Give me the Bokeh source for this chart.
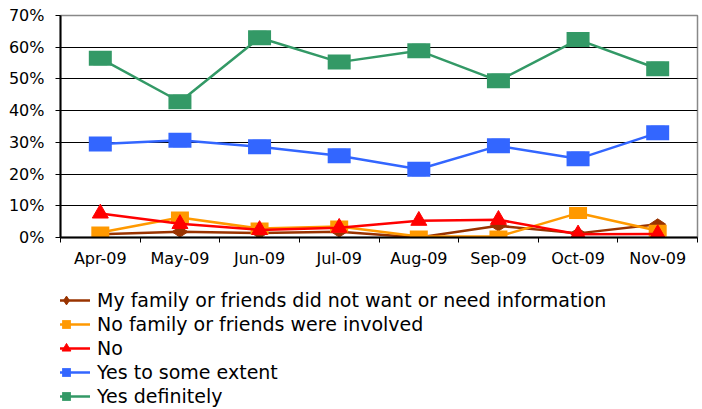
from bokeh.plotting import figure
from bokeh.models import Range1d, FixedTicker, Legend, LegendItem
from bokeh.layouts import column
from bokeh.embed import file_html
from bokeh.resources import INLINE
import math

months = ["Apr-09", "May-09", "Jun-09", "Jul-09", "Aug-09", "Sep-09", "Oct-09", "Nov-09"]
not_want = [1.0, 1.8, 1.4, 1.8, 0.0, 3.7, 1.3, 4.2]
no_family = [1.6, 6.3, 2.8, 3.5, 0.3, 0.3, 7.7, 2.1]
no = [7.6, 4.3, 2.4, 3.1, 5.3, 5.6, 1.0, 1.1]
yes_some = [29.5, 30.7, 28.6, 25.8, 21.5, 28.9, 24.8, 33.0]
yes_def = [56.5, 42.8, 63.0, 55.3, 58.9, 49.4, 62.4, 53.2]
y_ticks = [0, 10, 20, 30, 40, 50, 60, 70]

xs = [i + 0.5 for i in range(len(months))]

FONT = "DejaVu Sans"

p = figure(width=702, height=270, output_backend="svg", toolbar_location=None,
           x_range=Range1d(0, len(months)), y_range=Range1d(0, 70),
           min_border_left=60, min_border_right=5, min_border_top=15,
           min_border_bottom=32)

p.outline_line_color = "#888888"
p.outline_line_width = 1.5
p.background_fill_color = "white"
p.border_fill_color = "white"

p.xgrid.visible = False
p.ygrid.ticker = FixedTicker(ticks=y_ticks[1:-1])
p.ygrid.grid_line_color = "black"
p.ygrid.grid_line_width = 1

p.yaxis.ticker = FixedTicker(ticks=y_ticks)
p.yaxis.major_label_overrides = {t: f"{t}%" for t in y_ticks}
p.yaxis.major_tick_in = 0
p.yaxis.major_tick_out = 5
p.yaxis.minor_tick_out = 0
p.yaxis.minor_tick_in = 0
p.yaxis.major_label_standoff = 11
p.yaxis.axis_line_width = 2
p.yaxis.axis_line_color = "black"
p.yaxis.major_tick_line_color = "black"

p.xaxis.ticker = FixedTicker(ticks=xs, minor_ticks=list(range(len(months) + 1)))
p.xaxis.major_label_overrides = {x: m for x, m in zip(xs, months)}
p.xaxis.major_tick_in = 0
p.xaxis.major_tick_out = 0
p.xaxis.minor_tick_in = 0
p.xaxis.minor_tick_out = 5
p.xaxis.minor_tick_line_color = "black"
p.xaxis.major_label_standoff = 6
p.xaxis.axis_line_width = 2
p.xaxis.axis_line_color = "black"

for ax in (p.xaxis, p.yaxis):
    ax.major_label_text_font = FONT
    ax.major_label_text_font_size = "16px"
    ax.major_label_text_color = "black"

series = [
    ("My family or friends did not want or need information", not_want, "#993300", "diamond"),
    ("No family or friends were involved", no_family, "#FF9900", "square"),
    ("No", no, "#FF0000", "triangle"),
    ("Yes to some extent", yes_some, "#3366FF", "bigsquare"),
    ("Yes definitely", yes_def, "#339966", "bigsquare"),
]

# legend-only figure below the chart
lg = figure(width=702, height=139, output_backend="svg", toolbar_location=None,
            x_range=Range1d(100, 101), y_range=Range1d(100, 101),
            x_axis_location=None, y_axis_location=None,
            min_border_left=0, min_border_right=0, min_border_top=0,
            min_border_bottom=0)
lg.grid.visible = False
lg.outline_line_color = None


def draw(fig, vals, color, mk, with_rect):
    ln = fig.line(xs, vals, line_color=color, line_width=2.5)
    if mk == "diamond":
        sc = fig.scatter(xs, vals, marker="diamond", size=16, angle=math.pi / 2,
                         fill_color=color, line_color=color)
    elif mk == "triangle":
        sc = fig.scatter(xs, vals, marker="triangle", size=16,
                         fill_color=color, line_color=color)
    elif mk == "square":
        sc = fig.scatter(xs, vals, marker="square", size=11,
                         fill_color=color, line_color=None)
        if with_rect:
            fig.rect(xs, vals, width=18, height=12, width_units="screen",
                     height_units="screen", fill_color=color, line_color=None)
    else:
        sc = fig.scatter(xs, vals, marker="square", size=14,
                         fill_color=color, line_color=None)
        if with_rect:
            fig.rect(xs, vals, width=23, height=15, width_units="screen",
                     height_units="screen", fill_color=color, line_color=None)
    return ln, sc


items = []
for label, vals, color, mk in series:
    draw(p, vals, color, mk, True)
    ln, sc = draw(lg, vals, color, mk, False)
    items.append(LegendItem(label=label, renderers=[ln, sc]))

legend = Legend(items=items, location=(-18, 2), orientation="vertical",
                glyph_width=48, glyph_height=22, label_height=22, spacing=2,
                label_standoff=7, padding=0, margin=0,
                border_line_color=None, background_fill_alpha=0,
                label_text_font=FONT, label_text_font_size="19px",
                label_text_color="black")
lg.add_layout(legend, "center")

layout = column(p, lg, spacing=0)
open("out.html", "w").write(file_html(layout, INLINE))
